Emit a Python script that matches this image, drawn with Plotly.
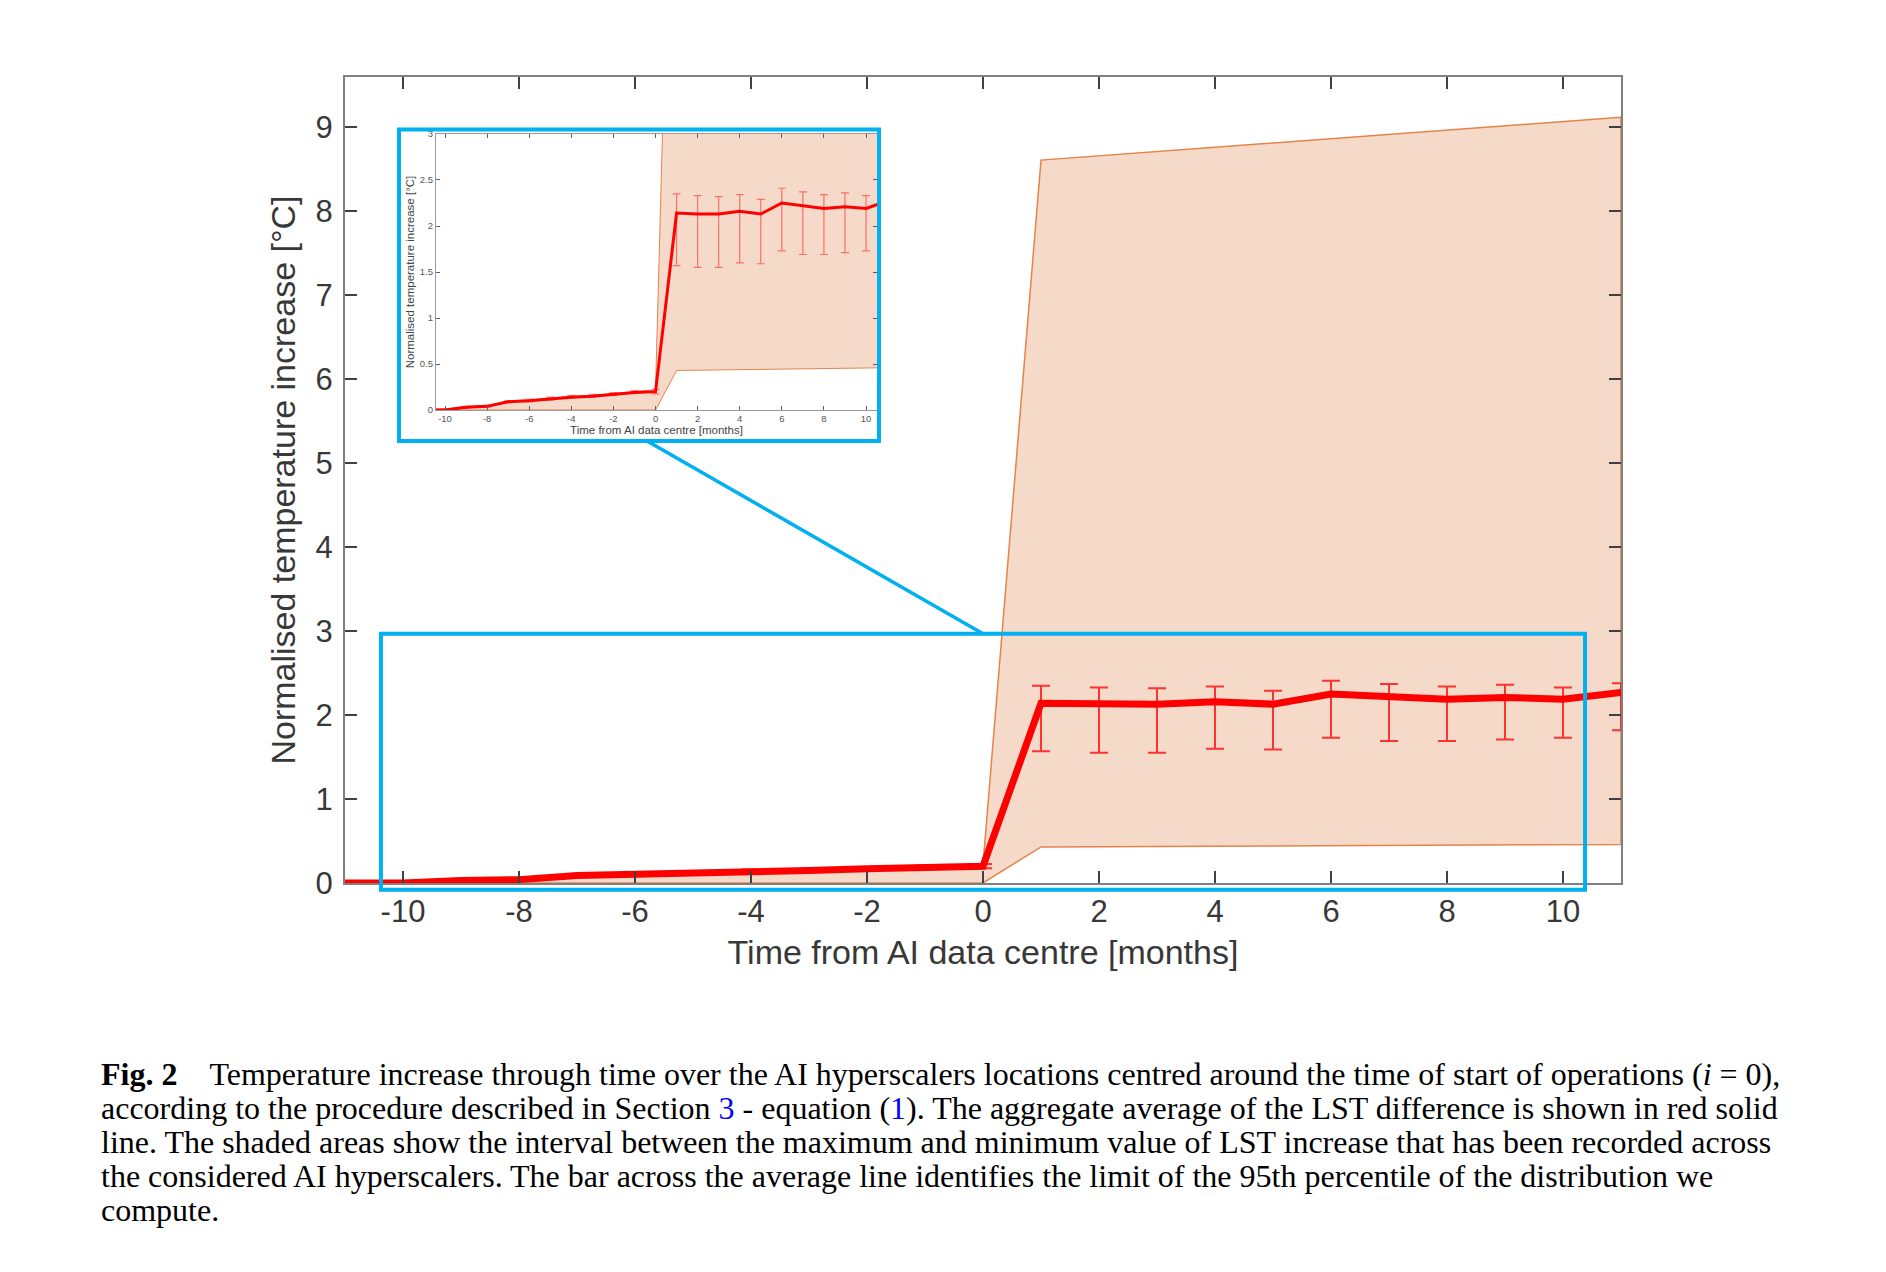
import plotly.graph_objects as go

# Monthly aggregate of the LST increase around start of operations (month 0)
months = [-11, -10, -9, -8, -7, -6, -5, -4, -3, -2, -1, 0,
          1, 2, 3, 4, 5, 6, 7, 8, 9, 10, 11]
mean_increase = [0.00, 0.00, 0.03, 0.04, 0.09, 0.10, 0.12, 0.14, 0.15, 0.17, 0.19, 0.20,
                 2.14, 2.13, 2.13, 2.16, 2.13, 2.25, 2.22, 2.19, 2.21, 2.19, 2.27]
p95_upper = [0.01, 0.01, 0.04, 0.05, 0.10, 0.12, 0.14, 0.16, 0.17, 0.19, 0.21, 0.225,
             2.35, 2.33, 2.32, 2.34, 2.29, 2.41, 2.37, 2.34, 2.36, 2.33, 2.38]
p95_lower = [0.00, 0.00, 0.02, 0.03, 0.08, 0.09, 0.11, 0.13, 0.14, 0.16, 0.18, 0.175,
             1.57, 1.55, 1.55, 1.60, 1.59, 1.73, 1.69, 1.69, 1.71, 1.73, 1.82]

# Max / min envelope across the hyperscalers
envelope_months = [-11, -10, -9, -8, -7, -6, -5, -4, -3, -2, -1, 0, 1, 11]
envelope_max = [0.01, 0.01, 0.04, 0.05, 0.10, 0.11, 0.13, 0.15, 0.16, 0.18, 0.20, 0.22, 8.61, 9.12]
envelope_min = [0.00, 0.00, 0.00, 0.00, 0.00, 0.00, 0.00, 0.00, 0.00, 0.00, 0.00, 0.00, 0.43, 0.46]

x_ticks = [-10, -8, -6, -4, -2, 0, 2, 4, 6, 8, 10]
x_ticktext = ["-10", "-8", "-6", "-4", "-2", "0", "2", "4", "6", "8", "10"]
y_ticks = [0, 1, 2, 3, 4, 5, 6, 7, 8, 9]
inset_y_ticks = [0, 0.5, 1, 1.5, 2, 2.5, 3]

x_title = "Time from AI data centre [months]"
y_title = "Normalised temperature increase [°C]"

caption_lines = [
    "<b>Fig. 2</b>\u2003Temperature increase through time over the AI hyperscalers locations centred around the time of start of operations (<i>i</i> = 0),",
    "according to the procedure described in Section <span style='color:#0000ff'>3</span> - equation (<span style='color:#0000ff'>1</span>). The aggregate average of the LST difference is shown in red solid",
    "line. The shaded areas show the interval between the maximum and minimum value of LST increase that has been recorded across",
    "the considered AI hyperscalers. The bar across the average line identifies the limit of the 95th percentile of the distribution we",
    "compute.",
]

X_RANGE = [-11, 11]
Y_RANGE = [0, 9.6]
INSET_X_RANGE = [-10.43, 10.52]
INSET_Y_RANGE = [0, 3]
zoom_box = dict(x0=-10.38, x1=10.38, y0=-0.08, y1=2.97)

FILL = "rgba(246,216,198,0.95)"
EDGE = "#E5834A"
BLUE = "#00B0F0"
TXT = "#383838"

err_plus = [u - m for u, m in zip(p95_upper, mean_increase)]
err_minus = [m - l for m, l in zip(mean_increase, p95_lower)]

poly_x = envelope_months + envelope_months[::-1]
poly_y = envelope_max + envelope_min[::-1]


def to_paper(x, y):
    return ((x - X_RANGE[0]) / (X_RANGE[1] - X_RANGE[0]),
            (y - Y_RANGE[0]) / (Y_RANGE[1] - Y_RANGE[0]))


fig = go.Figure()

# main panel
fig.add_trace(go.Scatter(x=poly_x, y=poly_y, fill="toself", fillcolor=FILL,
                         mode="lines", line=dict(color=EDGE, width=1.5),
                         hoverinfo="skip", showlegend=False))
fig.add_trace(go.Scatter(x=months, y=mean_increase, mode="lines",
                         line=dict(color="#FF0000", width=7),
                         error_y=dict(type="data", symmetric=False, array=err_plus,
                                      arrayminus=err_minus, color="rgba(255,20,20,0.85)",
                                      thickness=2, width=9),
                         cliponaxis=False, showlegend=False))

# inset panel
fig.add_trace(go.Scatter(x=poly_x, y=poly_y, fill="toself", fillcolor=FILL,
                         mode="lines", line=dict(color=EDGE, width=1),
                         xaxis="x2", yaxis="y2", hoverinfo="skip", showlegend=False))
fig.add_trace(go.Scatter(x=months, y=mean_increase, mode="lines",
                         line=dict(color="#FF0000", width=3),
                         error_y=dict(type="data", symmetric=False, array=err_plus,
                                      arrayminus=err_minus, color="rgba(255,40,40,0.6)",
                                      thickness=1.2, width=4),
                         xaxis="x2", yaxis="y2", showlegend=False))

axis_common = dict(showline=True, linecolor="#808080", linewidth=2, mirror="ticks",
                   ticks="inside", ticklen=12, tickwidth=2, tickcolor="#404040",
                   showgrid=False, zeroline=False,
                   tickfont=dict(family="Liberation Sans", size=31, color=TXT))
inset_common = dict(showline=True, linecolor="#9a9a9a", linewidth=1, mirror="ticks",
                    ticks="inside", ticklen=4, tickwidth=1, tickcolor="#606060",
                    showgrid=False, zeroline=False,
                    tickfont=dict(family="Liberation Sans", size=9.5, color="#555555"))

# the page body adds 8 px, so margins are shifted by that much
fig.update_layout(
    width=1886, height=1272,
    margin=dict(l=337, r=273, t=69, b=397),
    paper_bgcolor="white", plot_bgcolor="white",
    xaxis=dict(range=X_RANGE, tickvals=x_ticks, ticktext=x_ticktext,
               ticklabelstandoff=0,
               title=dict(text=x_title, standoff=12,
                          font=dict(family="Liberation Sans", size=34, color=TXT)),
               **axis_common),
    yaxis=dict(range=Y_RANGE, tickvals=y_ticks, ticklabelstandoff=4,
               title=dict(text=y_title, standoff=10,
                          font=dict(family="Liberation Sans", size=34, color=TXT)),
               **axis_common),
    xaxis2=dict(domain=[0.0713, 0.4169], anchor="y2", range=INSET_X_RANGE,
                tickvals=x_ticks, ticktext=x_ticktext,
                title=dict(text=x_title, standoff=2,
                           font=dict(family="Liberation Sans", size=11.5, color="#444444")),
                **inset_common),
    yaxis2=dict(domain=[0.5868, 0.9293], anchor="x2", range=INSET_Y_RANGE,
                tickvals=inset_y_ticks,
                title=dict(text=y_title, standoff=2,
                           font=dict(family="Liberation Sans", size=11.5, color="#444444")),
                **inset_common),
)

# blue zoom box on the main axes, box round the inset and the connector
bx0, by0 = to_paper(zoom_box["x0"], zoom_box["y0"])
bx1, by1 = to_paper(zoom_box["x1"], zoom_box["y1"])
fig.add_shape(type="rect", xref="paper", yref="paper", x0=bx0, y0=by0, x1=bx1, y1=by1,
              line=dict(color=BLUE, width=4), layer="above")
fig.add_shape(type="rect", xref="paper", yref="paper", x0=0.0423, y0=0.5484, x1=0.4185, y1=0.9349,
              line=dict(color=BLUE, width=4), layer="above")
cx, cy = to_paper(0, zoom_box["y1"])
fig.add_shape(type="line", xref="paper", yref="paper", x0=0.2367, y0=0.5484, x1=cx, y1=cy,
              line=dict(color=BLUE, width=3.5), layer="above")

# caption below the figure
for i, line in enumerate(caption_lines):
    fig.add_annotation(text=line, xref="paper", yref="paper", x=-0.1928,
                       y=(883 - 1094 - 34 * i) / 806, xanchor="left", yanchor="bottom",
                       showarrow=False, align="left",
                       font=dict(family="Liberation Serif", size=32, color="black"))

fig.write_html("out.html")
